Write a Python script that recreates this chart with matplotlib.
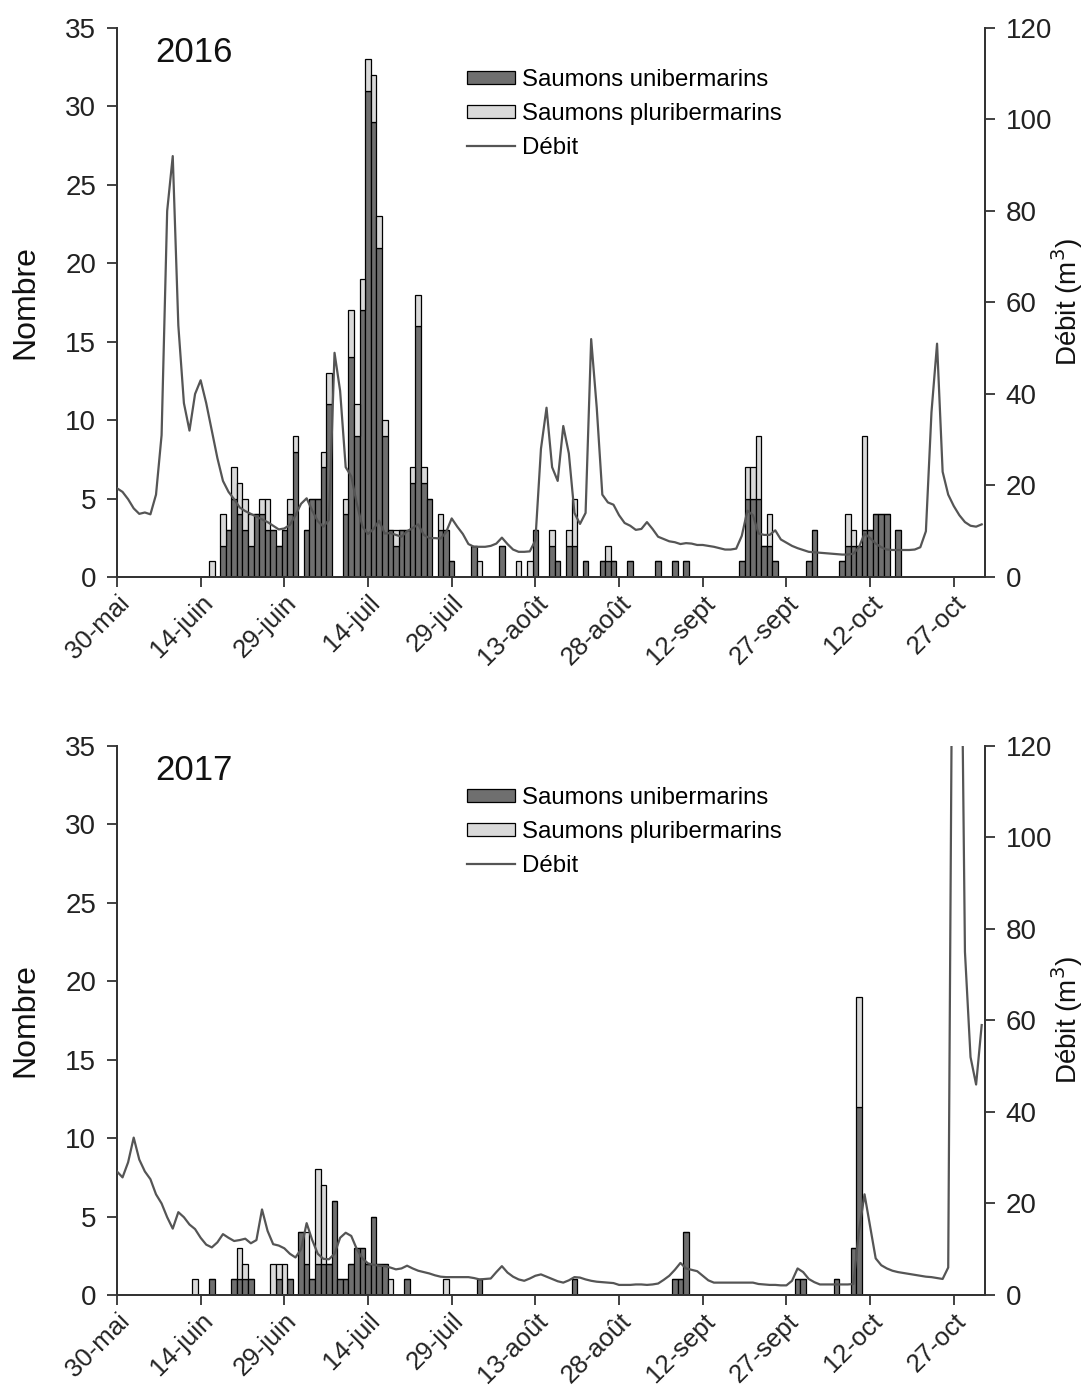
import numpy as np
import matplotlib
matplotlib.use("Agg")
import matplotlib.pyplot as plt
from matplotlib.patches import Patch
from matplotlib.lines import Line2D

plt.rcParams["font.family"] = ["Liberation Sans", "DejaVu Sans"]

# day 0 = 30 mai
date_ticks = [0, 15, 30, 45, 60, 75, 90, 105, 120, 135, 150]
date_labels = ["30-mai", "14-juin", "29-juin", "14-juil", "29-juil", "13-août",
               "28-août", "12-sept", "27-sept", "12-oct", "27-oct"]

# 2016 counts per day
days_2016 = [17, 19, 20, 21, 22, 23, 24, 25, 26, 27, 28, 29, 30, 31, 32, 34, 35, 36, 37, 38,
             41, 42, 43, 44, 45, 46, 47, 48, 49, 50, 51, 52, 53, 54, 55, 56, 58, 59, 60,
             64, 65, 69, 72, 74, 75, 78, 79, 81, 82, 84, 87, 88, 89, 92, 97, 100, 102,
             112, 113, 114, 115, 116, 117, 118, 124, 125, 130, 131, 132, 133, 134, 135,
             136, 137, 138, 140]
uni_2016 = [0, 2, 3, 5, 4, 3, 2, 4, 4, 3, 3, 2, 3, 4, 8, 3, 5, 5, 7, 11,
            4, 14, 9, 17, 31, 29, 21, 9, 3, 2, 3, 3, 6, 16, 6, 5, 3, 3, 1,
            2, 0, 2, 0, 0, 3, 2, 1, 2, 2, 1, 1, 1, 1, 1, 1, 1, 1,
            1, 5, 5, 5, 2, 2, 1, 1, 3, 1, 2, 2, 2, 3, 3,
            4, 4, 4, 3]
pluri_2016 = [1, 2, 0, 2, 2, 2, 2, 0, 1, 2, 0, 0, 0, 1, 1, 0, 0, 0, 1, 2,
              1, 3, 2, 2, 2, 3, 2, 1, 0, 1, 0, 0, 1, 2, 1, 0, 1, 0, 0,
              0, 1, 0, 1, 1, 0, 1, 0, 1, 3, 0, 0, 1, 0, 0, 0, 0, 0,
              0, 2, 2, 4, 0, 2, 0, 0, 0, 0, 2, 1, 0, 6, 0,
              0, 0, 0, 0]

# 2016 daily flow, 30 mai -> 2 nov
debit_2016 = [19.4, 18.6, 17.0, 15.0, 13.8, 14.1, 13.7, 18, 31, 80,
              92, 55, 38, 32, 40, 43, 38, 32, 26, 21,
              18.6, 17, 15.2, 14.4, 13.8, 13.2, 12.6, 12, 11.2, 10.4,
              10.6, 11.4, 13.5, 16, 17.2, 14.5, 12.2, 11, 12.5, 49,
              40.7, 24, 22, 16, 11, 9.4, 10.5, 12.3, 9.5, 9.6,
              9.2, 8.8, 10, 10.7, 11.5, 9.2, 8.5, 8.5, 8.4, 9.8,
              12.8, 11, 9.4, 7.2, 6.6, 6.6, 6.6, 6.8, 7.3, 8.6,
              7.2, 6, 5.5, 5.5, 5.6, 8, 28, 37, 24, 21,
              33, 27, 14, 11.6, 14, 52, 37, 18, 16.3, 15.8,
              13.5, 11.8, 11.2, 10.3, 10.5, 12, 10.5, 8.8, 8.3, 7.8,
              7.6, 7.2, 7.4, 7.3, 7.0, 7.0, 6.8, 6.6, 6.3, 6.0,
              6.0, 6.2, 9, 14.5, 13.5, 9.5, 9.2, 9.2, 10.2, 8.2,
              7.5, 6.8, 6.3, 5.9, 5.5, 5.4, 5.3, 5.2, 5.1, 5.0,
              4.9, 4.9, 5.1, 6.5, 9.5, 8.5, 7.3, 6.5, 6.0, 5.9,
              5.9, 5.9, 5.9, 6.0, 6.5, 10, 36, 51, 23, 18,
              15.5, 13.5, 12, 11.2, 11, 11.5]

# 2017 counts per day
days_2017 = [14, 17, 21, 22, 23, 24, 28, 29, 30, 31, 33, 34, 35, 36, 37, 38, 39, 40,
             41, 42, 43, 44, 45, 46, 47, 48, 49, 52, 59, 65, 82, 100, 101, 102,
             122, 123, 129, 132, 133]
uni_2017 = [0, 1, 1, 1, 1, 1, 0, 1, 0, 1, 4, 2, 1, 2, 2, 2, 6, 1,
            1, 2, 3, 3, 2, 5, 2, 2, 0, 1, 0, 1, 1, 1, 1, 4,
            1, 1, 1, 3, 12]
pluri_2017 = [1, 0, 0, 2, 1, 0, 2, 1, 2, 0, 0, 2, 0, 6, 5, 0, 0, 0,
              0, 0, 0, 0, 0, 0, 0, 0, 1, 0, 1, 0, 0, 0, 0, 0,
              0, 0, 0, 0, 7]

# 2017 daily flow
debit_2017 = [27, 25.7, 29, 34.4, 29.6, 27, 25.3, 22, 20, 17,
              14.5, 18.1, 17, 15.4, 14.4, 12.5, 11, 10.4, 11.5, 13.3,
              12.5, 11.8, 12, 12.3, 11.3, 12, 18.7, 14, 11.1, 10.8,
              10.2, 9, 8.2, 10, 15.7, 12, 9, 7.9, 7.8, 9,
              12.5, 13.6, 12.9, 10, 8, 6.9, 6.6, 6.4, 6.3, 6.0,
              5.6, 5.8, 6.4, 5.8, 5.3, 5.0, 4.7, 4.3, 4.0, 3.9,
              3.9, 3.9, 3.9, 3.9, 3.7, 3.4, 3.5, 3.6, 5, 6.3,
              4.9, 4, 3.4, 3.1, 3.6, 4.2, 4.5, 4, 3.5, 3,
              2.7, 3.2, 3.9, 3.8, 3.4, 3.1, 2.9, 2.8, 2.7, 2.6,
              2.2, 2.2, 2.2, 2.3, 2.3, 2.2, 2.3, 2.5, 3.3, 4.2,
              5.5, 7.0, 5.8, 5.5, 5.2, 4.2, 3.2, 2.7, 2.7, 2.7,
              2.7, 2.7, 2.7, 2.7, 2.7, 2.4, 2.3, 2.2, 2.2, 2.1,
              2.1, 3.1, 5.8, 5.0, 3.5, 2.8, 2.3, 2.3, 2.3, 2.3,
              2.3, 2.3, 2.4, 14, 22, 15, 8, 6.5, 5.8, 5.3,
              5.0, 4.8, 4.6, 4.4, 4.2, 4.0, 3.9, 3.7, 3.5, 6,
              200, 190, 75, 52, 46, 59]

DARK = "#6f6f6f"
LIGHT = "#d9d9d9"
LINE = "#555555"
AXC = "#333333"


def draw_panel(ax, year, days, uni, pluri, debit):
    uni = np.array(uni)
    pluri = np.array(pluri)
    ax.bar(days, uni, width=1.0, color=DARK, edgecolor="black", linewidth=0.9, zorder=2)
    ax.bar(days, pluri, width=1.0, bottom=uni, color=LIGHT, edgecolor="black",
           linewidth=0.9, zorder=2)
    ax.set_xlim(0, 155.6)
    ax.set_ylim(0, 35)
    ax.set_yticks(range(0, 36, 5))
    ax.set_xticks(date_ticks)
    ax.set_xticklabels(date_labels, rotation=45, ha="right", va="top",
                       rotation_mode="anchor", fontsize=18.5)
    ax.set_ylabel("Nombre", fontsize=23, color="#111111")
    ax.yaxis.set_label_coords(-0.088, 0.5)

    ax2 = ax.twinx()
    ax2.plot(np.arange(len(debit)), debit, color=LINE, linewidth=1.6, zorder=3)
    ax2.set_ylim(0, 120)
    ax2.set_yticks(range(0, 121, 20))
    ax2.set_ylabel("Débit (m$^3$)", fontsize=20, color="#111111")
    ax2.yaxis.set_label_coords(1.074, 0.5)

    for a in (ax, ax2):
        a.spines["top"].set_visible(False)
        for s in ("left", "right", "bottom"):
            a.spines[s].set_color(AXC)
            a.spines[s].set_linewidth(1.3)
        a.tick_params(direction="out", length=7, width=1.3, colors=AXC,
                      labelcolor="#222222")
        a.tick_params(axis="y", labelsize=20, pad=8)
    ax.tick_params(axis="x", pad=3)

    ax.text(0.044, 0.985, year, transform=ax.transAxes, fontsize=25,
            ha="left", va="top", color="#111111")

    handles = [Patch(facecolor=DARK, edgecolor="black", linewidth=0.9),
               Patch(facecolor=LIGHT, edgecolor="black", linewidth=0.9),
               Line2D([], [], color=LINE, linewidth=1.6)]
    labels = ["Saumons unibermarins", "Saumons pluribermarins", "Débit"]
    ax2.legend(handles, labels, loc="upper left", bbox_to_anchor=(0.403, 0.925),
               frameon=False, fontsize=17.3, handlelength=2.0, handleheight=0.5,
               handletextpad=0.3, labelspacing=0.5, borderpad=0, borderaxespad=0)


fig = plt.figure(figsize=(10.9, 13.85), dpi=100)
ax_top = fig.add_axes([0.1073, 0.5834, 0.7964, 0.3964])
ax_bot = fig.add_axes([0.1073, 0.065, 0.7964, 0.3964])

draw_panel(ax_top, "2016", days_2016, uni_2016, pluri_2016, debit_2016)
draw_panel(ax_bot, "2017", days_2017, uni_2017, pluri_2017, debit_2017)

fig.savefig("out.png", dpi=100, facecolor="white")
